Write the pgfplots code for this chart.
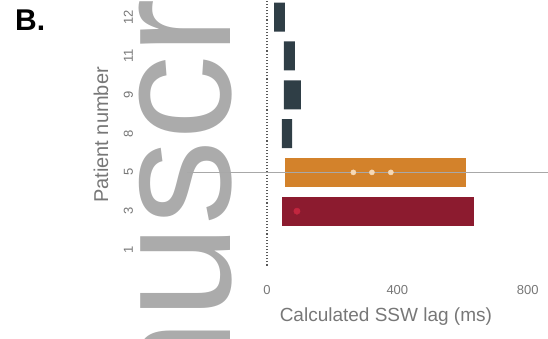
\documentclass[border=0pt]{standalone}
\usepackage{pgfplots}
\pgfplotsset{compat=1.18}
\usepackage{fontspec}
\setmainfont{Liberation Sans}
\definecolor{slate}{HTML}{2F3E46}
\definecolor{lagorange}{HTML}{D3822B}
\definecolor{lagred}{HTML}{8C1B2F}
\definecolor{labelgray}{HTML}{777777}
\definecolor{markgray}{HTML}{ABABAB}
\definecolor{rangegray}{HTML}{A8A8A8}
\definecolor{dotpeach}{HTML}{F6D9B6}
\definecolor{dotred}{HTML}{C2263F}

\begin{document}
\begin{tikzpicture}
\useasboundingbox (0pt,0pt) rectangle (548pt,-339pt);
% watermark
\node[rotate=90, anchor=base west, text=markgray, inner sep=0pt,
      font=\fontsize{170}{170}\selectfont] at (230pt,-650.5pt) {manuscript};
% panel letter
\node[anchor=north west, inner sep=0pt,
      font=\fontsize{30}{30}\selectfont\bfseries] at (15pt,-10pt) {B.};
\begin{axis}[
  at={(247.4pt,-265.5pt)}, anchor=south west,
  scale only axis, width=293.4pt, height=265.8pt,
  xmin=-60, xmax=840, ymin=0.6, ymax=7.45,
  enlargelimits=false, clip=false,
  axis line style={draw=none},
  major tick length=0pt,
  xtick={0,400,800},
  ytick={1,2,3,4,5,6,7},
  yticklabels={1,3,5,8,9,11,12},
  /pgf/number format/assume math mode=true,
  ticklabel style={font=\fontsize{13}{13}\selectfont, text=labelgray},
  xticklabel style={anchor=center, yshift=-24.5pt},
  yticklabel style={rotate=90, anchor=center},
  yticklabel shift=119pt,
  xlabel={Calculated SSW lag (ms)},
  xlabel style={at={(rel axis cs:0.472,0)}, anchor=center, yshift=-51.5pt,
                font=\fontsize{19}{19}\selectfont, text=labelgray},
  ylabel={Patient number},
  ylabel style={at={(rel axis cs:-0.499,0.491)}, anchor=center,
                font=\fontsize{20}{20}\selectfont, text=labelgray},
  xbar stacked, bar width=29pt,
]
% range line for patient 5
\addplot[sharp plot, stack plots=false, rangegray, line width=1.2pt]
  coordinates {(-245,3) (870,3)};
% bar start (invisible offset)
\addplot[draw=none, fill=none]
  coordinates {(22,7) (52,6) (52,5) (46,4) (55,3) (46,2) (0,1)};
% lag spans
\addplot[draw=none, fill=slate]
  coordinates {(33,7) (34,6) (52,5) (31,4) (0,3) (0,2) (0,1)};
\addplot[draw=none, fill=lagorange]
  coordinates {(0,7) (0,6) (0,5) (0,4) (555,3) (0,2) (0,1)};
\addplot[draw=none, fill=lagred]
  coordinates {(0,7) (0,6) (0,5) (0,4) (0,3) (589,2) (0,1)};
% median lines inside the short spans
\addplot[sharp plot, stack plots=false, white!75!slate, line width=0.8pt]
  coordinates {(46,4) (77,4)};
\addplot[sharp plot, stack plots=false, white!65!slate, line width=0.8pt]
  coordinates {(52,6) (86,6)};
% single measurements
\addplot[only marks, stack plots=false, mark=*, color=dotpeach,
         mark options={scale=1.3}]
  coordinates {(265,3) (322,3) (380,3)};
\addplot[only marks, stack plots=false, mark=*, color=dotred,
         mark options={scale=1.6}]
  coordinates {(92,2)};
% zero line
\addplot[sharp plot, stack plots=false, black!65, line width=1.1pt, dotted]
  coordinates {(0,0.6) (0,7.45)};
\end{axis}
\end{tikzpicture}
\end{document}
